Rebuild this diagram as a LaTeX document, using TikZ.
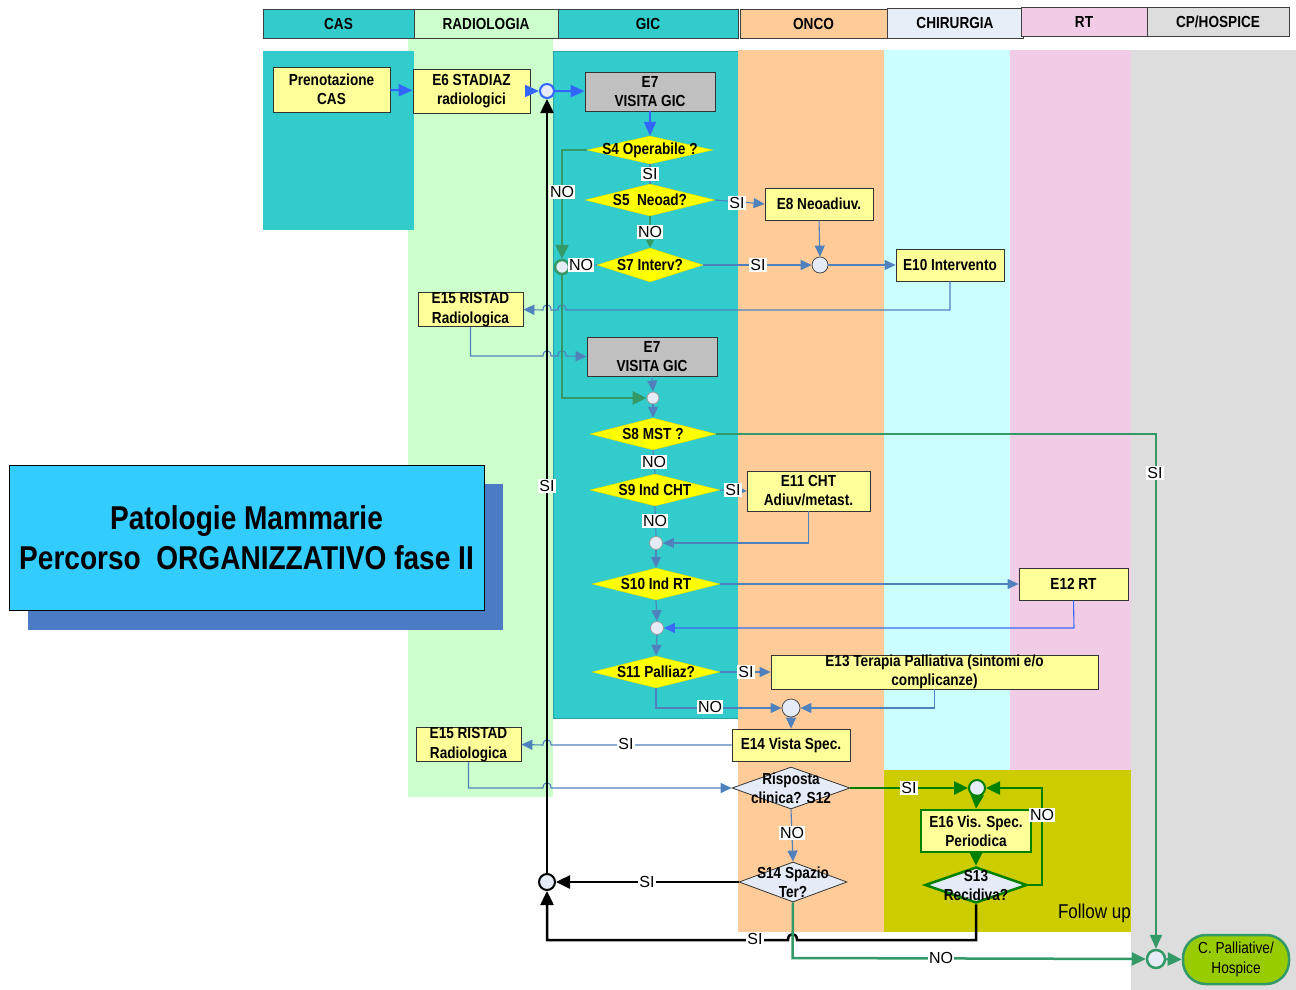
\documentclass[tikz,border=0pt]{standalone}
\usepackage{fontspec}
\setmainfont{Liberation Sans}
\newfontfamily\nar[FakeStretch=0.85]{Liberation Sans}
\usetikzlibrary{shapes.geometric,arrows.meta,calc}
\definecolor{teal}{HTML}{33CCCC}
\definecolor{lgreen}{HTML}{CCFFCC}
\definecolor{peach}{HTML}{FFCC99}
\definecolor{lcyan}{HTML}{CCFFFF}
\definecolor{lpink}{HTML}{F0CCE6}
\definecolor{lgray}{HTML}{DDDDDD}
\definecolor{chirh}{HTML}{E6EEF8}
\definecolor{olive}{HTML}{CCCC00}
\definecolor{ybox}{HTML}{FFFF99}
\definecolor{ydia}{HTML}{FFFF00}
\definecolor{gbox}{HTML}{C0C0C0}
\definecolor{lav}{HTML}{E6ECF7}
\definecolor{titlec}{HTML}{33CCFF}
\definecolor{shadowc}{HTML}{4A7BC4}
\definecolor{blueA}{HTML}{3366FF}
\definecolor{blueB}{HTML}{4F81BD}
\definecolor{greenA}{HTML}{339966}
\definecolor{greenB}{HTML}{008000}
\definecolor{palg}{HTML}{99CC00}
\begin{document}
\begin{tikzpicture}[x=1pt,y=-1pt,
  hdr/.style={draw=black!75, line width=0.8pt, inner sep=0pt, font=\nar\bfseries\fontsize{16}{18}\selectfont},
  proc/.style={draw=black!80, fill=ybox, line width=0.8pt, inner sep=0pt, align=center, font=\nar\bfseries\fontsize{16}{19}\selectfont},
  gicbox/.style={proc, fill=gbox},
  dec/.style={diamond, fill=ydia, draw=ydia!85!black, line width=0.4pt, inner sep=0pt},
  dtext/.style={font=\nar\bfseries\fontsize{16}{19}\selectfont, align=center, inner sep=0pt},
  jn/.style={circle, fill=lav, draw=black!70, line width=0.8pt, inner sep=0pt},
  lab/.style={fill=white, inner sep=1pt, font=\fontsize{16}{16}\selectfont},
  thinb/.style={draw=blueB, line width=1.1pt, -{Triangle[length=11pt,width=10pt]}},
  thinbn/.style={draw=blueB, line width=1.1pt},
  topb/.style={draw=blueA, line width=2pt, -{Triangle[length=14pt,width=12pt]}},
  grA/.style={draw=greenA, line width=2.5pt, -{Triangle[length=14pt,width=13pt]}},
  grB/.style={draw=greenB, line width=2.5pt, -{Triangle[length=14pt,width=13pt]}},
  blk/.style={draw=black, line width=2.5pt, -{Triangle[length=14pt,width=13pt]}}
]
\useasboundingbox (0,0) rectangle (1296,990);
% ---------- lanes ----------
\fill[lgreen] (408,38) rectangle (553,797);
\fill[teal] (263,51) rectangle (414,230);
\filldraw[fill=teal, draw=teal!80!black, line width=0.6pt] (553,51) rectangle (738,718);
\fill[peach] (738,50) rectangle (884,932);
\fill[lcyan] (884,50) rectangle (1010,770);
\fill[lpink] (1010,50) rectangle (1131,770);
\fill[lgray] (1131,50) rectangle (1296,990);
\fill[olive] (884,770) rectangle (1131,932);
\node[font=\nar\fontsize{20}{22}\selectfont, anchor=east, inner sep=0pt] (fu) at (1131,913) {Follow up};
% ---------- headers ----------
\node[hdr, fill=teal, minimum width=151pt, minimum height=29pt] (hcas) at (338.5,23.5) {CAS};
\node[hdr, fill=lgreen, minimum width=144pt, minimum height=29pt] (hrad) at (486,23.5) {RADIOLOGIA};
\node[hdr, fill=teal, minimum width=180pt, minimum height=29pt] (hgic) at (648,23.5) {GIC};
\node[hdr, fill=peach, minimum width=147pt, minimum height=29pt] (honc) at (813.5,23.5) {ONCO};
\node[hdr, fill=chirh, minimum width=136pt, minimum height=30pt] (hchi) at (955,23) {CHIRURGIA};
\node[hdr, fill=lpink, minimum width=126pt, minimum height=29pt] (hrt) at (1084,21.5) {RT};
\node[hdr, fill=lgray, minimum width=142pt, minimum height=29pt] (hcp) at (1218,21.5) {CP/HOSPICE};
% ---------- title ----------
\fill[shadowc] (28,484) rectangle (503,630);
\node[draw=black, line width=0.8pt, fill=titlec, minimum width=475pt, minimum height=145pt, inner sep=0pt, align=center,
  font=\nar\bfseries\fontsize{33}{40}\selectfont] (title) at (246.5,537.5) {Patologie Mammarie\\Percorso\ \ ORGANIZZATIVO fase II};
% ---------- process boxes ----------
\node[proc, minimum width=117pt, minimum height=45pt] (pren) at (331.5,89.5) {Prenotazione\\CAS};
\node[proc, minimum width=117pt, minimum height=44pt] (e6) at (471.5,91) {E6 STADIAZ\\radiologici};
\node[gicbox, minimum width=130pt, minimum height=39pt] (e7a) at (650,91.5) {E7\\VISITA GIC};
\node[proc, minimum width=108pt, minimum height=32pt] (e8) at (819,204) {E8 Neoadiuv.};
\node[proc, minimum width=108pt, minimum height=32pt] (e10) at (950,265) {E10 Intervento};
\node[proc, minimum width=105pt, minimum height=33pt, font=\nar\bfseries\fontsize{16}{20}\selectfont] (e15a) at (470.5,309.5) {E15 RISTAD\\Radiologica};
\node[gicbox, minimum width=130pt, minimum height=39pt] (e7b) at (652,356.5) {E7\\VISITA GIC};
\node[proc, minimum width=123pt, minimum height=40pt] (e11) at (808.5,491) {E11 CHT\\Adiuv/metast.};
\node[proc, minimum width=109pt, minimum height=32pt] (e12) at (1073.5,584) {E12 RT};
\node[proc, minimum width=327pt, minimum height=34pt] (e13) at (934.5,672) {E13 Terapia Palliativa (sintomi e/o\\complicanze)};
\node[proc, minimum width=118pt, minimum height=32pt] (e14) at (791,745) {E14 Vista Spec.};
\node[proc, minimum width=105pt, minimum height=33pt, font=\nar\bfseries\fontsize{16}{20}\selectfont] (e15b) at (468.5,744.5) {E15 RISTAD\\Radiologica};
\node[proc, draw=greenB, line width=2.5pt, minimum width=110pt, minimum height=42pt] (e16) at (976,831) {E16 Vis. Spec.\\Periodica};
\node[draw=greenA, line width=2.5pt, fill=palg, rounded corners=23pt, minimum width=106pt, minimum height=49pt,
  inner sep=0pt, align=center, font=\nar\fontsize{16}{20}\selectfont] (cph) at (1236,959.5) {C. Palliative/\\Hospice};
% ---------- decisions ----------
\node[dec, minimum width=126pt, minimum height=28pt, label={[dtext]center:S4 Operabile ?}] (s4) at (650,150) {};
\node[dec, minimum width=130pt, minimum height=32pt, label={[dtext]center:S5\ \ Neoad?}] (s5) at (650,200) {};
\node[dec, minimum width=106pt, minimum height=34pt, label={[dtext]center:S7 Interv?}] (s7) at (650,265) {};
\node[dec, minimum width=126pt, minimum height=32pt, label={[dtext]center:S8 MST ?}] (s8) at (653,434) {};
\node[dec, minimum width=130pt, minimum height=32pt, label={[dtext]center:S9 Ind CHT}] (s9) at (655,490) {};
\node[dec, minimum width=128pt, minimum height=32pt, label={[dtext]center:S10 Ind RT}] (s10) at (656,584) {};
\node[dec, minimum width=128pt, minimum height=32pt, label={[dtext]center:S11 Palliaz?}] (s11) at (656,672) {};
\node[diamond, fill=lav, draw=black!80, line width=0.8pt, inner sep=0pt, minimum width=118pt, minimum height=42pt,
  label={[dtext]center:Risposta\\clinica? S12}] (s12) at (791,788) {};
\node[diamond, fill=lav, draw=black!80, line width=0.8pt, inner sep=0pt, minimum width=108pt, minimum height=40pt,
  label={[dtext]center:S14 Spazio\\Ter?}] (s14) at (793,882) {};
\node[diamond, fill=lav, draw=greenB, line width=2.5pt, inner sep=0pt, minimum width=102pt, minimum height=36pt,
  label={[dtext]center:S13\\Recidiva?}] (s13) at (976,885) {};
% ---------- junctions ----------
\node[jn, draw=blueA, line width=2pt, minimum size=14pt] (j1) at (547,91) {};
\node[jn, draw=greenA, line width=2.5pt, minimum size=14pt] (j2) at (562,267) {};
\node[jn, minimum size=16pt] (j3) at (820,265) {};
\node[jn, draw=black!40, minimum size=12pt] (j4) at (653,398) {};
\node[jn, draw=black!40, minimum size=13pt] (j5) at (656,543) {};
\node[jn, draw=black!40, minimum size=13pt] (j6) at (657,628) {};
\node[jn, minimum size=18pt] (j7) at (791,708) {};
\node[jn, draw=greenB, line width=2pt, minimum size=16pt] (j8) at (977,788) {};
\node[jn, draw=black, line width=2pt, minimum size=16pt] (j9) at (547,882) {};
\node[jn, draw=greenA, line width=2.5pt, minimum size=18pt] (jend) at (1156,959) {};
% ---------- connectors ----------
\draw[topb] (pren) -- (e6);
\draw[topb] (e6.east) -- (j1);
\draw[topb] (j1) -- (e7a);
\draw[topb] (e7a) -- (s4);
% S4 NO
\draw[grA] (s4.west) -- (562,150) -- (j2.north);
\node[lab] at (562,192) {NO};
% S4 -> S5
\draw[thinbn] (s4.south) -- (s5.north);
\node[lab] at (650,174) {SI};
% S5 -> E8
\draw[thinb] (s5.east) -- (e8.west);
\node[lab] at (737,203) {SI};
% S5 -> S7
\draw[draw=greenA, line width=1.1pt, -{Triangle[length=8pt,width=8pt]}] (s5.south) -- (s7.north);
\node[lab] at (650,232) {NO};
% S7 -> J2
\draw[thinbn] (s7.west) -- (j2.east);
\node[lab] at (581,265) {NO};
% S7 -> J3
\draw[thinb] (s7.east) -- (j3.west);
\node[lab] at (758,265) {SI};
\draw[thinb] (e8.south) -- (j3.north);
\draw[thinb] (j3.east) -- (e10.west);
% E10 -> E15a
\draw[thinb] (e10.south) -- (950,310) -- (566,310) .. controls (566,303) and (558,303) .. (558,310)
  -- (551,310) .. controls (551,303) and (543,303) .. (543,310) -- (e15a.east);
% E15a -> E7b
\draw[thinb] (e15a.south) -- (470.5,356) -- (543,356) .. controls (543,349) and (551,349) .. (551,356)
  -- (558,356) .. controls (558,349) and (566,349) .. (566,356) -- (e7b.west);
\draw[thinb] (e7b.south) -- (j4.north);
% J2 -> J4
\draw[grA] (j2.south) -- (562,398) -- (j4.west);
\draw[thinb] (j4.south) -- (s8.north);
% S8 SI
\draw[draw=greenA, line width=2pt, -{Triangle[length=14pt,width=12pt]}] (s8.east) -- (1156,434) -- (jend.north);
\node[lab] at (1155,473) {SI};
% S8 -> S9
\draw[thinbn] (s8.south) -- (s9.north);
\node[lab] at (654,462) {NO};
% S9 -> E11
\draw[draw=blueB, line width=1.1pt, -{Triangle[length=6pt,width=6pt]}] (s9.east) -- (e11.west);
\node[lab] at (733,490) {SI};
% S9 -> J5
\draw[thinbn] (s9.south) -- (j5.north);
\node[lab] at (655,521) {NO};
\draw[thinb] (e11.south) -- (808.5,543) -- (j5.east);
\draw[thinb] (j5.south) -- (s10.north);
% S10 -> E12
\draw[thinb] (s10.east) -- (e12.west);
\draw[thinb] (s10.south) -- (j6.north);
\draw[draw=blueA!80!blueB, line width=1.1pt, -{Triangle[length=11pt,width=10pt]}] (e12.south) -- (1074,628) -- (j6.east);
\draw[thinb] (j6.south) -- (s11.north);
% S11 -> E13
\draw[thinb] (s11.east) -- (e13.west);
\node[lab] at (746,672) {SI};
\draw[thinb] (s11.south) -- (656,708) -- (j7.west);
\node[lab] at (710,707) {NO};
\draw[thinb] (e13.south) -- (934.5,708) -- (j7.east);
\draw[thinb] (j7.south) -- (e14.north);
% E14 -> E15b
\draw[thinb] (e14.west) -- (551,745) .. controls (551,738) and (543,738) .. (543,745) -- (e15b.east);
\node[lab] at (626,744) {SI};
% E15b -> S12
\draw[thinb] (e15b.south) -- (468.5,788) -- (543,788) .. controls (543,781) and (551,781) .. (551,788) -- (s12.west);
% S12 SI
\draw[grB] (s12.east) -- (j8.west);
\node[lab] at (909,788) {SI};
\draw[grB] (j8.south) -- (e16.north);
\draw[grB] (e16.south) -- (s13.north);
\draw[grB] (s13.east) -- (1042,885) -- (1042,788) -- (j8.east);
\node[lab] at (1042,815) {NO};
% S12 -> S14
\draw[thinb] (s12.south) -- (s14.north);
\node[lab] at (792,833) {NO};
% S14 SI
\draw[blk] (s14.west) -- (j9.east);
\node[lab] at (647,882) {SI};
% S13 SI
\draw[blk] (s13.south) -- (976,940) -- (797,940) .. controls (797,932) and (788,932) .. (788,940) -- (547,940) -- (j9.south);
\node[lab] at (755,939) {SI};
% J9 -> J1
\draw[blk] (j9.north) -- (j1.south);
\node[lab] at (547,486) {SI};
% S14 NO
\draw[grA] (s14.south) -- (792.5,958) -- (jend.west);
\node[lab] at (941,958) {NO};
\draw[grA] (jend.east) -- (cph.west);
\end{tikzpicture}
\end{document}
